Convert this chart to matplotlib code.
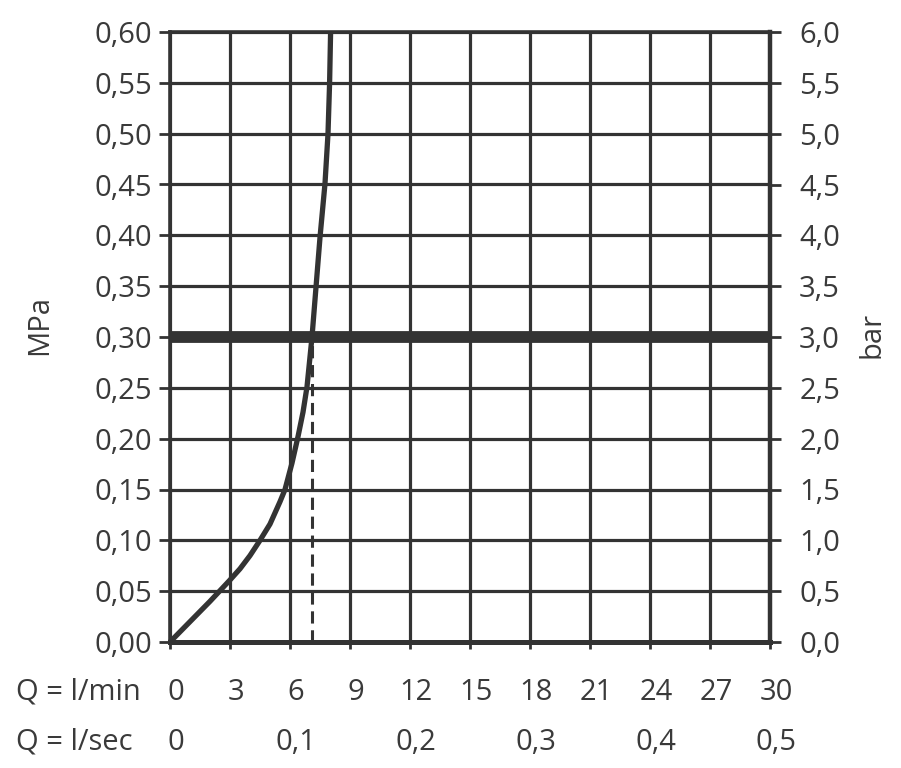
import matplotlib
matplotlib.use("Agg")
import matplotlib.pyplot as plt
import matplotlib.transforms as mtransforms
import numpy as np

# curve: flow (l/min) vs pressure (MPa)
flow_lmin = [0, 1.0, 2.0, 3.0, 3.5, 4.0, 4.5, 5.0, 5.25, 5.5, 5.75, 6.1, 6.4, 6.65, 6.85,
             7.1, 7.3, 7.5, 7.75, 7.9, 7.98, 8.03]
pressure = [0, 0.020, 0.040, 0.061, 0.072, 0.085, 0.100, 0.116, 0.127, 0.138, 0.150, 0.176,
            0.202, 0.226, 0.251, 0.300, 0.349, 0.398, 0.451, 0.500, 0.550, 0.600]

ref_pressure = 0.30
ref_flow = 7.08

mpa_ticks = [0.00, 0.05, 0.10, 0.15, 0.20, 0.25, 0.30, 0.35, 0.40, 0.45, 0.50, 0.55, 0.60]
bar_ticks = [0.0, 0.5, 1.0, 1.5, 2.0, 2.5, 3.0, 3.5, 4.0, 4.5, 5.0, 5.5, 6.0]
lmin_ticks = [0, 3, 6, 9, 12, 15, 18, 21, 24, 27, 30]
lsec_pos = [0, 6, 12, 18, 24, 30]
lsec_labels = ["0", "0,1", "0,2", "0,3", "0,4", "0,5"]

ink = "#333333"
txt = "#3a3a3a"
fs = 21
plt.rcParams['font.family'] = ['Open Sans', 'DejaVu Sans']

fig = plt.figure(figsize=(9.01, 7.68), dpi=100)
ax = fig.add_axes([170/901, 126/768, 600/901, 610/768])

ax.set_xlim(0, 30)
ax.set_ylim(0, 0.6)
ax.set_xticks(lmin_ticks)
ax.set_yticks(mpa_ticks)
ax.grid(True, color=ink, linewidth=2.3)
ax.set_axisbelow(True)

ax.axhline(ref_pressure, color=ink, linewidth=8.5, zorder=3)
ax.plot([ref_flow, ref_flow], [0, ref_pressure], color=ink, linewidth=2.2,
        linestyle=(0, (4, 2.2)), zorder=3)
ax.plot(flow_lmin, pressure, color=ink, linewidth=3.8, zorder=4,
        solid_capstyle='butt', solid_joinstyle='round', clip_on=False)

for s in ax.spines.values():
    s.set_color(ink)
    s.set_linewidth(2.6)
ax.spines['bottom'].set_linewidth(3.6)

ax.set_yticklabels([f"{v:.2f}".replace(".", ",") for v in mpa_ticks])
ax.tick_params(axis='y', length=8, width=2, color=ink, labelsize=fs,
               labelcolor=txt, pad=5)
ax.tick_params(axis='x', length=5, width=2, color=ink, labelbottom=False)

# flow labels below the axis
off = mtransforms.ScaledTranslation(6/100, 0, fig.dpi_scale_trans)
trans = mtransforms.blended_transform_factory(ax.transData, fig.transFigure) + off
for v in lmin_ticks:
    ax.text(v, 1 - 692/768, str(v), transform=trans, ha='center', va='center',
            fontsize=fs, color=txt)
for v, lab in zip(lsec_pos, lsec_labels):
    ax.text(v, 1 - 742/768, lab, transform=trans, ha='center', va='center',
            fontsize=fs, color=txt)
fig.text(16/901, 1 - 692/768, "Q = l/min", ha='left', va='center', fontsize=fs, color=txt)
fig.text(16/901, 1 - 742/768, "Q = l/sec", ha='left', va='center', fontsize=fs, color=txt)

ax2 = ax.twinx()
ax2.set_ylim(0, 6)
ax2.set_yticks(bar_ticks)
ax2.set_yticklabels([f"{v:.1f}".replace(".", ",") for v in bar_ticks])
ax2.tick_params(axis='y', length=8, width=2, color=ink, labelsize=fs,
                labelcolor=txt, pad=13)
for s in ax2.spines.values():
    s.set_visible(False)
ax2.spines['right'].set_visible(True)
ax2.spines['right'].set_color(ink)
ax2.spines['right'].set_linewidth(3.2)

fig.text(40/901, 1 - 325/768, "MPa", rotation=90, ha='center', va='center',
         fontsize=fs, color=txt)
fig.text(872/901, 1 - 335/768, "bar", rotation=90, ha='center', va='center',
         fontsize=fs, color=txt)

fig.savefig("out.png", dpi=100, facecolor="white")
